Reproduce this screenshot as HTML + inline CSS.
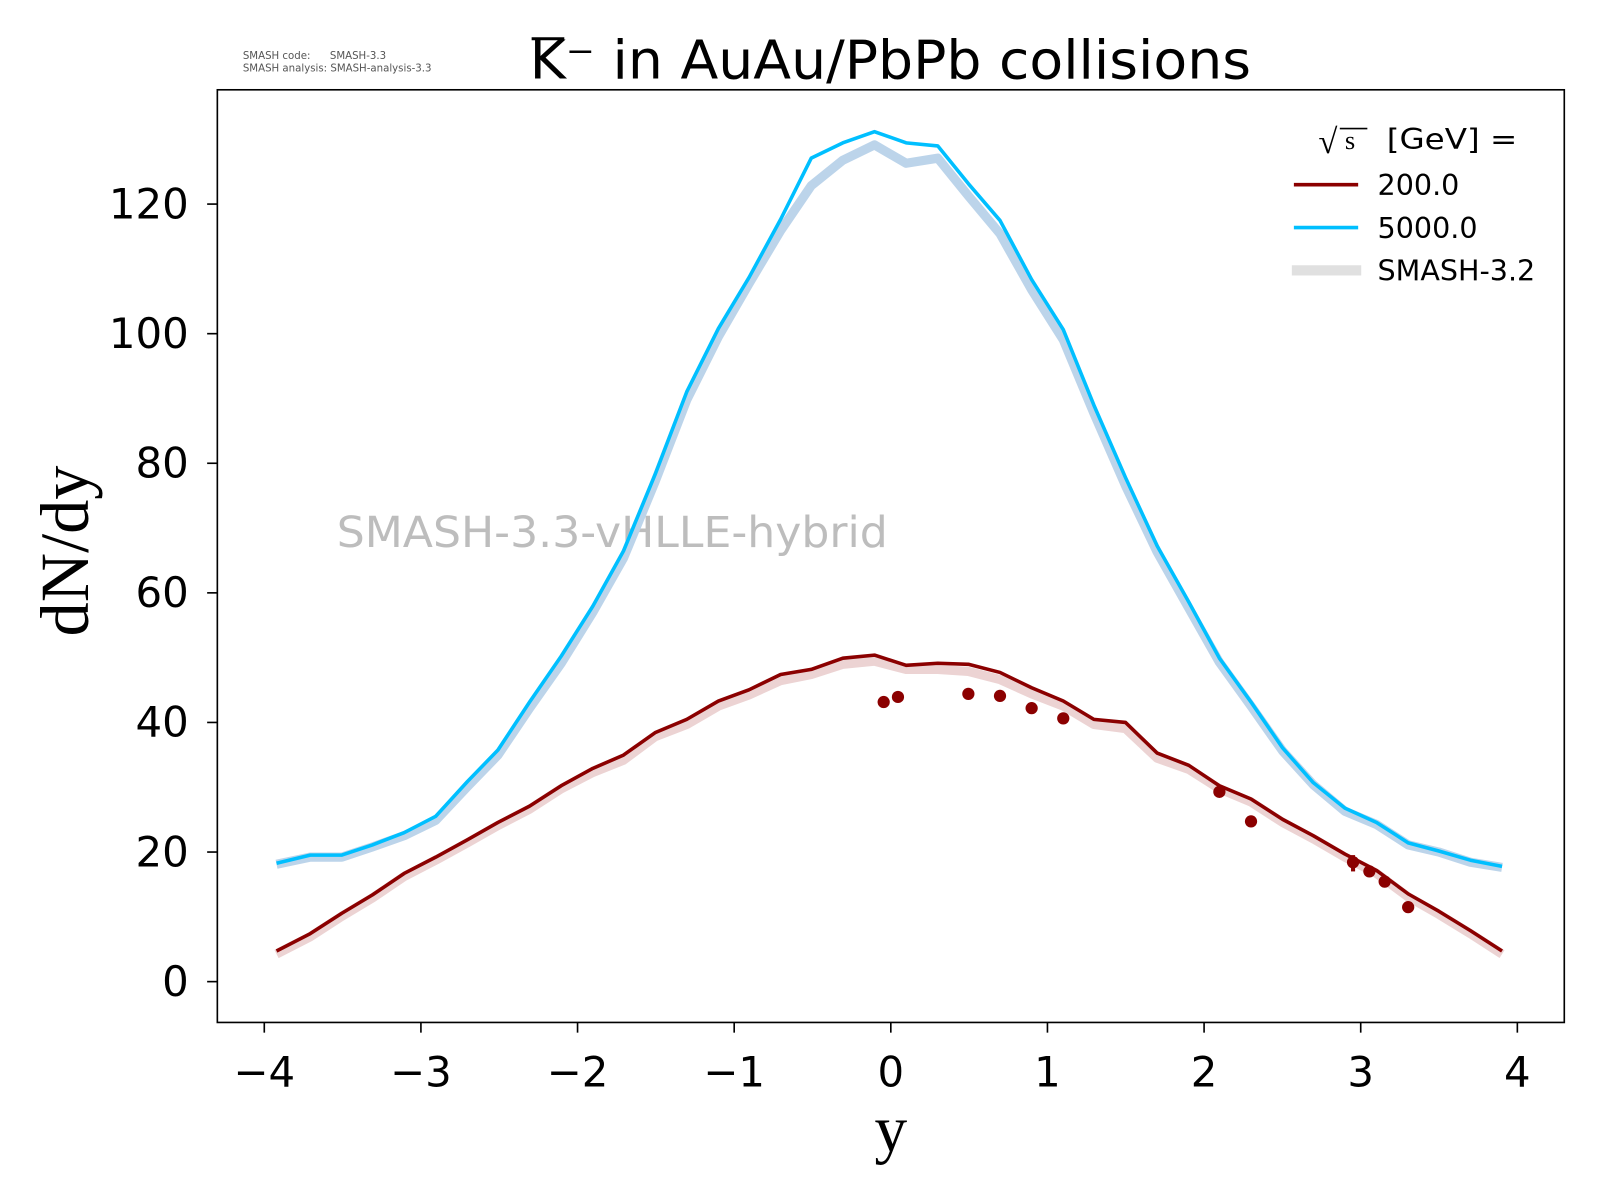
<!DOCTYPE html>
<html><head><meta charset="utf-8"><style>
html,body{margin:0;padding:0;background:#fff;}
svg{display:block;}
</style></head><body>
<svg width="1600" height="1200" viewBox="0 0 1568 1176" xmlns="http://www.w3.org/2000/svg" font-family="'DejaVu Sans','Liberation Sans',sans-serif">
<rect width="1568" height="1176" fill="#fff"/>
<text x="238" y="58" font-size="10" fill="#555" xml:space="preserve">SMASH code:      SMASH-3.3</text>
<text x="238" y="70" font-size="10" fill="#555">SMASH analysis: SMASH-analysis-3.3</text>
<text x="519" y="77" font-size="52" fill="#000" textLength="707" lengthAdjust="spacingAndGlyphs">K⁻ in AuAu/PbPb collisions</text>
<line x1="521" y1="38" x2="553" y2="38" stroke="#000" stroke-width="3"/>

<text x="330" y="536" font-size="42" fill="#bdbdbd" textLength="540" lengthAdjust="spacingAndGlyphs">SMASH-3.3-vHLLE-hybrid</text>

<polyline fill="none" stroke="#bcd4ea" stroke-width="9" stroke-linejoin="round" points="271,847 304,840 335,840 365,830 396,819 427,804 458,771 488,740 519,694 550,650 581,600 611,547 642,472 673,392 704,330 734,278 765,226 795,182 826,157 857,142 888,160 919,155 949,192 980,229 1011,284 1042,333 1072,405 1103,476 1134,541 1165,596 1195,649 1226,692 1257,736 1287,769 1318,795 1349,808 1380,828 1410,835 1441,845 1472,850"/>
<polyline fill="none" stroke="#ecd3d3" stroke-width="9" stroke-linejoin="round" points="271,935 304,918 335,898 365,880 396,859 427,843 458,826 488,809 519,793 550,773 581,757 611,745 642,722 673,710 704,692 734,681 765,667 795,661 826,651 857,648 888,656 919,656 949,658 980,666 1011,680 1042,692 1072,710 1103,714 1134,743 1165,754 1195,773 1226,786 1257,806 1287,822 1318,840 1349,856 1380,879 1410,896 1441,915 1472,935"/>
<polyline fill="none" stroke="#00bfff" stroke-width="3.5" stroke-linejoin="round" points="271,846 304,838 335,838 365,828 396,816 427,800 458,766 488,735 519,688 550,643 581,594 611,540 642,465 673,384 704,322 734,272 765,215 795,155 826,140 857,129 888,140 919,143 949,180 980,216 1011,274 1042,323 1072,397 1103,468 1134,535 1165,590 1195,645 1226,688 1257,733 1287,767 1318,792 1349,806 1380,826 1410,834 1441,843 1472,849"/>
<polyline fill="none" stroke="#8b0000" stroke-width="3.5" stroke-linejoin="round" points="271,932 304,915 335,895 365,877 396,856 427,840 458,823 488,806 519,790 550,770 581,753 611,740 642,718 673,705 704,687 734,676 765,661 795,656 826,645 857,642 888,652 919,650 949,651 980,659 1011,674 1042,687 1072,705 1103,708 1134,738 1165,750 1195,770 1226,783 1257,803 1287,819 1318,837 1349,853 1380,876 1410,893 1441,912 1472,932"/>
<g fill="#8b0000">
<circle cx="866" cy="688" r="6"/><circle cx="880" cy="683" r="6"/>
<circle cx="949" cy="680" r="6"/><circle cx="980" cy="682" r="6"/>
<circle cx="1011" cy="694" r="6"/><circle cx="1042" cy="704" r="6"/>
<circle cx="1195" cy="776" r="6"/><circle cx="1226" cy="805" r="6"/>
<circle cx="1326" cy="845" r="6"/><rect x="1324" y="838" width="4" height="16"/>
<circle cx="1342" cy="854" r="6"/><circle cx="1357" cy="864" r="6"/>
<circle cx="1380" cy="889" r="6"/>
</g>

<rect x="213" y="88" width="1320" height="914" fill="none" stroke="#000" stroke-width="1.6"/>
<g stroke="#000" stroke-width="1.6">
<line x1="259" y1="1002" x2="259" y2="1012"/><line x1="412.5" y1="1002" x2="412.5" y2="1012"/>
<line x1="566" y1="1002" x2="566" y2="1012"/><line x1="719.5" y1="1002" x2="719.5" y2="1012"/>
<line x1="873" y1="1002" x2="873" y2="1012"/><line x1="1026.5" y1="1002" x2="1026.5" y2="1012"/>
<line x1="1180" y1="1002" x2="1180" y2="1012"/><line x1="1333.5" y1="1002" x2="1333.5" y2="1012"/>
<line x1="1487" y1="1002" x2="1487" y2="1012"/>
<line x1="203" y1="962" x2="213" y2="962"/><line x1="203" y1="835" x2="213" y2="835"/>
<line x1="203" y1="708" x2="213" y2="708"/><line x1="203" y1="581" x2="213" y2="581"/>
<line x1="203" y1="454" x2="213" y2="454"/><line x1="203" y1="327" x2="213" y2="327"/>
<line x1="203" y1="200" x2="213" y2="200"/>
</g>
<g font-size="41" text-anchor="middle" fill="#000">
<text x="259" y="1065">−4</text><text x="412.5" y="1065">−3</text><text x="566" y="1065">−2</text>
<text x="719.5" y="1065">−1</text><text x="873" y="1065">0</text><text x="1026.5" y="1065">1</text>
<text x="1180" y="1065">2</text><text x="1333.5" y="1065">3</text><text x="1487" y="1065">4</text>
</g>
<g font-size="41" text-anchor="end" fill="#000">
<text x="185" y="976">0</text><text x="185" y="849">20</text><text x="185" y="722">40</text>
<text x="185" y="595">60</text><text x="185" y="468">80</text><text x="185" y="341">100</text>
<text x="185" y="214">120</text>
</g>
<text x="873" y="1128" font-size="64" text-anchor="middle" font-family="'Liberation Serif',serif">y</text>
<text transform="translate(86,540) rotate(-90)" font-size="67" text-anchor="middle" font-family="'Liberation Serif',serif">dN/dy</text>

<text x="1292" y="150" font-size="34" font-family="'Liberation Serif',serif">√</text>
<line x1="1313" y1="126" x2="1340" y2="126" stroke="#000" stroke-width="1.6"/>
<text x="1318" y="146" font-size="26" font-family="'Liberation Serif',serif">s</text>
<text x="1359" y="146" font-size="28" textLength="128" lengthAdjust="spacingAndGlyphs">[GeV] =</text>
<line x1="1268" y1="181" x2="1331" y2="181" stroke="#8b0000" stroke-width="3.5"/>
<text x="1350" y="191" font-size="28">200.0</text>
<line x1="1268" y1="223" x2="1331" y2="223" stroke="#00bfff" stroke-width="3.5"/>
<text x="1350" y="233" font-size="28">5000.0</text>
<line x1="1266" y1="265" x2="1334" y2="265" stroke="#e0e0e0" stroke-width="10"/>
<text x="1350" y="275" font-size="28">SMASH-3.2</text>
</svg>
</body></html>
